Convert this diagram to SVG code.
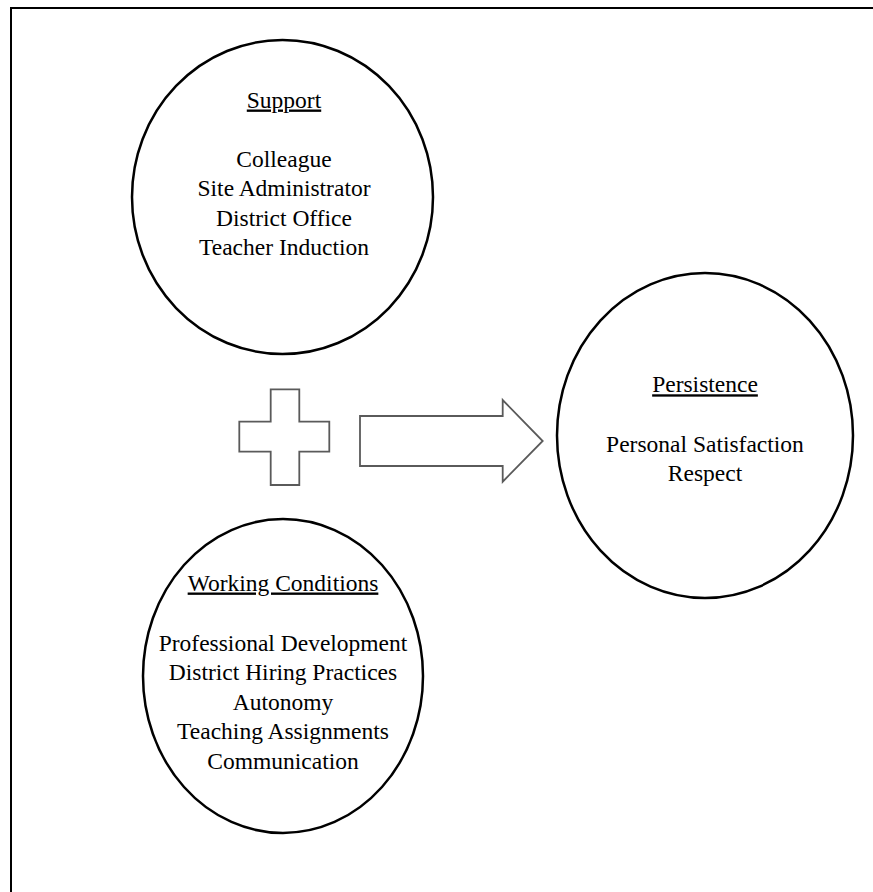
<svg xmlns="http://www.w3.org/2000/svg" width="873" height="892" viewBox="0 0 873 892">
  <style>
    .node { fill: #ffffff; stroke: #000000; stroke-width: 2.5; }
    .lbl { font-family: "Liberation Serif", "Times New Roman", serif; font-size: 23.5px; fill: #000000; text-anchor: middle; }
    .ttl { text-decoration: underline; }
    .sym { fill: #ffffff; stroke: #5a5a5a; stroke-width: 1.8; stroke-linejoin: miter; }
    .frame { stroke: #000000; stroke-width: 2; fill: none; }
  </style>
  <rect x="0" y="0" width="873" height="892" fill="#ffffff"/>
  <g id="frame">
    <path class="frame" d="M11,892 V8 H873"/>
  </g>
  <g id="support">
    <ellipse class="node" cx="282.5" cy="197" rx="150.5" ry="157"/>
    <text class="lbl ttl" x="284" y="107.5">Support</text>
    <text class="lbl" x="284" y="166.5">Colleague</text>
    <text class="lbl" x="284" y="196">Site Administrator</text>
    <text class="lbl" x="284" y="225.5">District Office</text>
    <text class="lbl" x="284" y="255">Teacher Induction</text>
  </g>
  <g id="working-conditions">
    <ellipse class="node" cx="283" cy="676" rx="140" ry="157"/>
    <text class="lbl ttl" x="283" y="590.5">Working Conditions</text>
    <text class="lbl" x="283" y="650.5">Professional Development</text>
    <text class="lbl" x="283" y="680">District Hiring Practices</text>
    <text class="lbl" x="283" y="709.5">Autonomy</text>
    <text class="lbl" x="283" y="739">Teaching Assignments</text>
    <text class="lbl" x="283" y="768.5">Communication</text>
  </g>
  <g id="persistence">
    <ellipse class="node" cx="705" cy="435.5" rx="148" ry="162.5"/>
    <text class="lbl ttl" x="705" y="392.3">Persistence</text>
    <text class="lbl" x="705" y="452.3">Personal Satisfaction</text>
    <text class="lbl" x="705" y="481">Respect</text>
  </g>
  <g id="plus">
    <path class="sym" d="M270.7,389.3 H299.3 V421.7 H329.3 V451.7 H299.3 V485 H270.7 V451.7 H239.3 V421.7 H270.7 Z"/>
  </g>
  <g id="connectors">
    <path class="sym" d="M360,416 H502.7 V400 L542.7,441 L502.7,481.7 V466 H360 Z"/>
  </g>
</svg>
